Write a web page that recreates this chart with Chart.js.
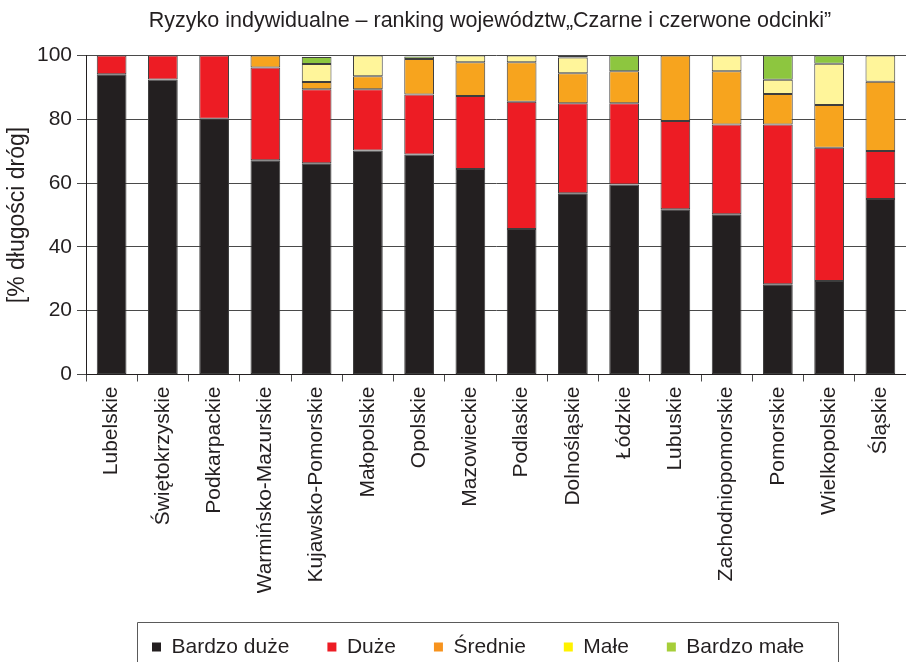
<!DOCTYPE html>
<html>
<head>
<meta charset="utf-8">
<script src="https://cdn.jsdelivr.net/npm/chart.js@4/dist/chart.umd.min.js"></script>
<style>
  html, body { margin: 0; padding: 0; background: #ffffff; overflow: hidden; }
  #wrap { width: 906px; height: 662px; }
</style>
</head>
<body>
<div id="wrap"><canvas id="c" width="906" height="662"></canvas></div>
<script>
// ---- data ----
const categories = ['Lubelskie', 'Świętokrzyskie', 'Podkarpackie', 'Warmińsko-Mazurskie', 'Kujawsko-Pomorskie',
  'Małopolskie', 'Opolskie', 'Mazowieckie', 'Podlaskie', 'Dolnośląskie', 'Łódzkie', 'Lubuskie',
  'Zachodniopomorskie', 'Pomorskie', 'Wielkopolskie', 'Śląskie'];
const seriesNames = ['Bardzo duże', 'Duże', 'Średnie', 'Małe', 'Bardzo małe'];
const bardzoDuze = [94.1, 92.5, 80.2, 67.2, 66.2, 70.2, 69.0, 64.4, 45.6, 56.8, 59.6, 51.8, 50.2, 28.3, 29.3, 55.0];
const duze       = [5.9, 7.5, 19.8, 29.0, 23.2, 19.2, 18.8, 22.9, 39.9, 28.2, 25.4, 27.7, 28.2, 50.1, 41.8, 15.1];
const srednie    = [0, 0, 0, 3.8, 2.3, 4.1, 11.1, 10.6, 12.4, 9.4, 10.1, 20.5, 16.7, 9.5, 13.4, 21.7];
const male       = [0, 0, 0, 0, 5.6, 6.5, 0, 2.1, 2.1, 5.0, 0, 0, 4.9, 4.5, 12.9, 8.2];
const bardzoMale = [0, 0, 0, 0, 2.2, 0, 0.8, 0, 0, 0.6, 4.9, 0, 0, 7.6, 2.6, 0];
const yTicks = [0, 20, 40, 60, 80, 100];

const barColors    = ['#231f20', '#ed1c24', '#f7a41e', '#fff59a', '#8dc63f'];
const legendColors = ['#231f20', '#ed1c24', '#f7931e', '#fff200', '#a6ce39'];
const seriesValues = [bardzoDuze, duze, srednie, male, bardzoMale];

const FONT = "'Liberation Sans', Arial, Helvetica, sans-serif";
const TXT = '#231f20';

const layoutTweak = {
  id: 'layoutTweak',
  afterLayout(chart) {
    const lg = chart.legend;
    if (lg && lg.lineWidths) {
      const pad = lg.options.labels.padding;
      const start = (lg.left + pad + lg.right - lg.lineWidths[0]) / 2;
      const dx = 152 - start;
      lg.left += dx; lg.right += dx;
      lg.top += 5.5; lg.bottom += 5.5;
    }
    const tb = chart.titleBlock;
    if (tb) {
      const dx = 490 - (tb.left + tb.right) / 2;
      tb.left += dx; tb.right += dx;
    }
  },
  afterDraw(chart) {
    const lg = chart.legend;
    if (!lg) return;
    const pad = lg.options.labels.padding;
    const start = (lg.left + pad + lg.right - lg.lineWidths[0]) / 2;
    const x0 = Math.round(start - 15) + 0.5;
    const x1 = Math.round(start + lg.lineWidths[0] - pad + 34) + 0.5;
    const y0 = Math.round(lg.top + pad + 10.5 - 25) + 0.5;
    const ctx = chart.ctx;
    ctx.save();
    ctx.strokeStyle = '#5a5a5a';
    ctx.lineWidth = 1;
    ctx.beginPath();
    ctx.moveTo(x0, chart.height + 5);
    ctx.lineTo(x0, y0);
    ctx.lineTo(x1, y0);
    ctx.lineTo(x1, chart.height + 5);
    ctx.stroke();
    ctx.restore();
  }
};

new Chart(document.getElementById('c'), {
  type: 'bar',
  data: {
    labels: categories,
    datasets: seriesNames.map((name, i) => ({
      label: name,
      data: seriesValues[i],
      backgroundColor: barColors[i],
      borderColor: '#3d3d3d',
      borderWidth: 1,
      borderSkipped: false,
      barPercentage: 0.58,
      categoryPercentage: 1.0
    }))
  },
  options: {
    responsive: false,
    animation: false,
    devicePixelRatio: 1,
    layout: { padding: 0 },
    plugins: {
      title: {
        display: true,
        fullSize: false,
        text: 'Ryzyko indywidualne – ranking województw„Czarne i czerwone odcinki”',
        color: TXT,
        font: { family: FONT, size: 21.5, weight: 'normal' },
        padding: { top: 8, bottom: 21.7 }
      },
      legend: {
        display: true,
        position: 'bottom',
        fullSize: false,
        labels: {
          color: TXT,
          font: { family: FONT, size: 21 },
          boxWidth: 9,
          boxHeight: 9,
          padding: 38,
          generateLabels: (chart) => seriesNames.map((name, i) => ({
            text: name,
            fillStyle: legendColors[i],
            strokeStyle: legendColors[i],
            lineWidth: 0,
            hidden: false,
            datasetIndex: i,
            fontColor: TXT
          }))
        }
      },
      tooltip: { enabled: false }
    },
    scales: {
      x: {
        stacked: true,
        offset: true,
        afterFit: (s) => { s.height = 222.5 - 4; s.paddingLeft = 0; s.paddingRight = 0; },
        grid: {
          display: true,
          offset: true,
          drawOnChartArea: false,
          drawTicks: true,
          tickLength: 7,
          color: '#4a4a4a'
        },
        border: { display: true, color: '#231f20', width: 1 },
        ticks: {
          autoSkip: false,
          minRotation: 90,
          maxRotation: 90,
          padding: 5,
          color: TXT,
          font: { family: FONT, size: 21 }
        }
      },
      y: {
        stacked: true,
        min: 0,
        max: 100,
        afterFit: (s) => { s.width = 86; },
        afterBuildTicks: (s) => { s.ticks = yTicks.map(v => ({ value: v })); },
        grid: {
          display: true,
          drawOnChartArea: true,
          drawTicks: true,
          tickLength: 9,
          color: '#4a4a4a',
          lineWidth: 1
        },
        border: { display: true, color: '#231f20', width: 1 },
        ticks: {
          padding: 5,
          color: TXT,
          font: { family: FONT, size: 21 }
        },
        title: {
          display: true,
          text: '[% długości dróg]',
          color: TXT,
          font: { family: FONT, size: 23 },
          padding: { top: 4, bottom: 0 }
        }
      }
    }
  },
  plugins: [layoutTweak]
});
</script>
</body>
</html>
